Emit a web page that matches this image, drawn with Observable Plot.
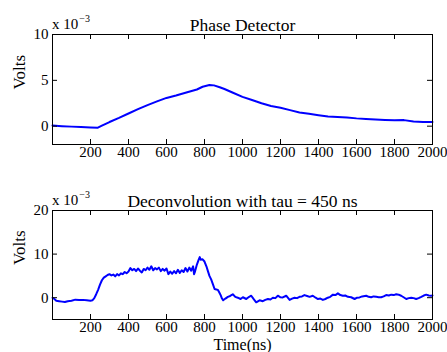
<!DOCTYPE html>
<html>
<head>
<meta charset="utf-8">
<script src="https://cdn.jsdelivr.net/npm/d3@7"></script>
<script src="https://cdn.jsdelivr.net/npm/@observablehq/plot@0.6"></script>
<style>
  html, body { margin: 0; padding: 0; background: #fff; }
  #chart svg { display: block; }
</style>
</head>
<body>
<div id="chart"></div>
<script>
// ---- data (volts x 10^-3) ----
const phaseTime = [0, 50, 100, 150, 200, 239, 260, 300, 350, 400, 450, 500, 550, 600, 650, 700, 760, 790, 826, 850, 880, 905, 950, 1000, 1050, 1100, 1150, 1200, 1250, 1300, 1350, 1400, 1450, 1500, 1550, 1600, 1650, 1700, 1750, 1800, 1850, 1900, 1950, 2000];
const phaseVolts = [0.07, 0.0, -0.05, -0.1, -0.14, -0.17, 0.05, 0.45, 0.9, 1.38, 1.85, 2.3, 2.7, 3.08, 3.35, 3.65, 4.0, 4.3, 4.5, 4.45, 4.25, 4.05, 3.65, 3.2, 2.85, 2.5, 2.2, 2.0, 1.75, 1.5, 1.35, 1.2, 1.05, 1.0, 0.95, 0.85, 0.78, 0.72, 0.68, 0.65, 0.66, 0.5, 0.45, 0.45];

const deconvTime = [0, 10, 20, 35, 50, 65, 80, 100, 120, 140, 160, 180, 200, 210, 220, 230, 240, 250, 260, 270, 280, 290, 300, 310, 320, 330, 340, 350, 360, 370, 380, 390, 400, 410, 420, 430, 440, 450, 460, 470, 480, 490, 500, 510, 520, 530, 540, 550, 560, 570, 580, 590, 600, 610, 620, 630, 640, 650, 660, 670, 680, 690, 700, 710, 720, 730, 740, 745, 750, 760, 770, 775, 780, 790, 800, 810, 818, 826, 835, 845, 853, 862, 870, 878, 885, 892, 898, 910, 923, 935, 949, 962, 975, 990, 1002, 1020, 1035, 1046, 1060, 1072, 1090, 1107, 1120, 1134, 1147, 1160, 1173, 1186, 1200, 1212, 1230, 1248, 1261, 1274, 1287, 1300, 1313, 1326, 1340, 1353, 1370, 1385, 1397, 1410, 1423, 1436, 1449, 1462, 1476, 1489, 1502, 1515, 1528, 1541, 1555, 1572, 1590, 1603, 1616, 1630, 1651, 1664, 1677, 1690, 1704, 1717, 1730, 1743, 1756, 1770, 1783, 1796, 1809, 1822, 1835, 1848, 1862, 1875, 1888, 1901, 1914, 1927, 1941, 1954, 1967, 1980, 1993, 2000];
const deconvVolts = [0.0, -0.3, -0.7, -0.8, -0.9, -1.0, -0.8, -0.7, -0.45, -0.5, -0.5, -0.6, -0.7, -0.6, -0.1, 0.8, 1.8, 3.0, 4.0, 4.6, 4.9, 5.2, 5.4, 5.1, 5.3, 4.9, 5.4, 5.1, 5.6, 5.4, 5.9, 5.6, 6.0, 6.8, 6.3, 6.6, 6.1, 6.7, 6.2, 5.8, 6.6, 6.3, 6.9, 6.4, 7.2, 6.3, 6.8, 6.5, 6.9, 6.1, 6.6, 6.2, 6.7, 5.4, 6.0, 5.5, 6.1, 5.6, 6.4, 5.7, 6.3, 5.9, 6.8, 6.0, 6.9, 6.2, 7.2, 5.4, 6.0, 7.6, 8.8, 9.3, 8.7, 8.8, 8.3, 7.2, 6.1, 5.0, 4.2, 3.0, 2.0, 1.9, 1.8, 1.2, 0.6, -0.2, -0.6, -0.2, 0.2, 0.4, 0.8, 0.2, 0.0, -0.3, 0.1, -0.3, 0.2, 0.45, -0.4, -1.05, -0.6, -0.8, -0.5, -0.3, -0.4, 0.0, -0.1, 0.45, 0.1, 0.07, 0.45, -0.5, -0.2, 0.0, -0.1, 0.2, 0.3, 0.6, 0.4, 0.2, 0.45, 0.0, -0.3, -0.2, -0.5, -0.3, 0.0, 0.2, 0.7, 0.6, 1.0, 0.6, 0.45, 0.5, 0.2, 0.1, -0.3, 0.0, 0.07, 0.3, 0.45, 0.2, 0.1, 0.3, 0.2, 0.1, 0.1, 0.3, 0.6, 0.5, 0.7, 0.6, 0.8, 0.7, 0.45, 0.1, -0.3, -0.1, 0.0, -0.1, -0.3, -0.1, 0.2, 0.5, 0.7, 0.5, 0.45, 0.5];

const xTicks = [200, 400, 600, 800, 1000, 1200, 1400, 1600, 1800, 2000];
const phaseYTicks = [0, 5, 10];
const deconvYTicks = [0, 10, 20];
const phaseTitle = "Phase Detector";
const deconvTitle = "Deconvolution with tau = 450 ns";
const yLabel = "Volts";
const xLabel = "Time(ns)";

const W = 447, H = 176;
const mL = 52, mR = 15;
const FONT = "'Liberation Serif', 'Times New Roman', serif";

function panel({time, volts, yDomain, yTicks, title, bottomLabel, marginBottom}) {
  const data = time.map((t, i) => ({t, v: volts[i]}));
  const mT = 34;
  const plotW = W - mL - mR;
  const plotH = H - mT - marginBottom;
  const tk = 5;
  const marks = [
    Plot.line(data, {x: "t", y: "v", stroke: "#0000ff", strokeWidth: 2}),
    Plot.frame({stroke: "#000", strokeWidth: 1}),
    // inward ticks on all four sides
    Plot.tickX(xTicks, {x: d => d, stroke: "#000", insetTop: plotH - tk}),
    Plot.tickX(xTicks, {x: d => d, stroke: "#000", insetBottom: plotH - tk}),
    Plot.tickY(yTicks, {y: d => d, stroke: "#000", insetRight: plotW - tk}),
    Plot.tickY(yTicks, {y: d => d, stroke: "#000", insetLeft: plotW - tk}),
    Plot.axisX(xTicks, {tickSize: 0, tickPadding: 2, fontSize: 15, fontFamily: FONT, fill: "#000", label: null, tickFormat: d => String(d)}),
    Plot.axisY(yTicks, {tickSize: 0, tickPadding: 4, fontSize: 15, fontFamily: FONT, fill: "#000", label: null, tickFormat: d => String(d)}),
    Plot.text([title], {frameAnchor: "top", dy: -16, text: d => d, fontSize: 17.5, fontFamily: FONT, fill: "#000"}),
    Plot.text([yLabel], {frameAnchor: "left", dx: -33, rotate: -90, text: d => d, fontSize: 17, fontFamily: FONT, fill: "#000"})
  ];
  if (bottomLabel) {
    marks.push(Plot.text([bottomLabel], {frameAnchor: "bottom", dy: 30, text: d => d, fontSize: 16, fontFamily: FONT, fill: "#000"}));
  }
  const svg = Plot.plot({
    width: W, height: H,
    marginLeft: mL, marginRight: mR, marginTop: mT, marginBottom,
    style: {fontFamily: FONT, background: "#fff", overflow: "visible"},
    x: {domain: [0, 2000], label: null},
    y: {domain: yDomain, label: null},
    marks
  });
  // exponent note "x 10^-3" above the top-left corner
  const t = d3.select(svg).append("text")
    .attr("x", mL).attr("y", 29)
    .attr("text-anchor", "start")
    .attr("font-family", FONT).attr("font-size", 15).attr("fill", "#000");
  t.append("tspan").text("x 10");
  t.append("tspan").attr("dy", -7).attr("dx", 1).attr("font-size", 10).text("\u22123");
  return svg;
}

const chart = document.getElementById("chart");
chart.appendChild(panel({time: phaseTime, volts: phaseVolts, yDomain: [-2, 10], yTicks: phaseYTicks, title: phaseTitle, bottomLabel: null, marginBottom: 32}));
chart.appendChild(panel({time: deconvTime, volts: deconvVolts, yDomain: [-5, 20], yTicks: deconvYTicks, title: deconvTitle, bottomLabel: xLabel, marginBottom: 33}));
</script>
</body>
</html>
